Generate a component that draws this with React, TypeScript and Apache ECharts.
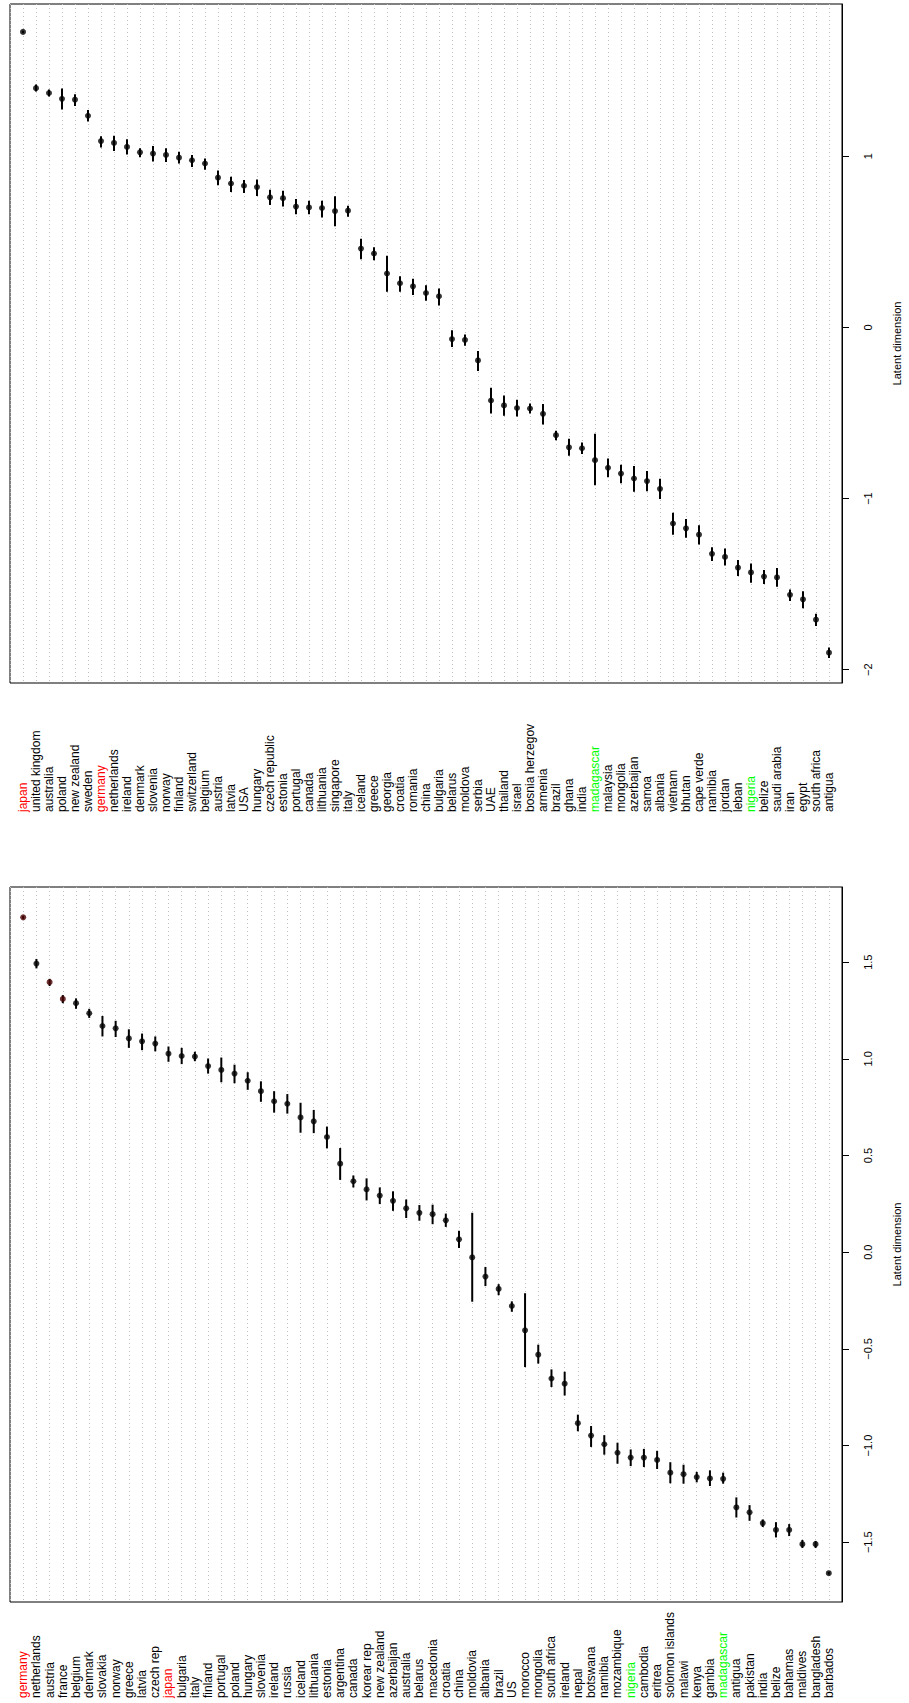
import React, { useEffect, useRef } from "react";
import * as echarts from "echarts";

// ---------- top panel data ----------
const topNames = [
  "japan", "united kingdom", "australia", "poland", "new zealand", "sweden", "germany", "netherlands",
  "ireland", "denmark", "slovenia", "norway", "finland", "switzerland", "belgium", "austria", "latvia",
  "USA", "hungary", "czech republic", "estonia", "portugal", "canada", "lithuania", "singapore", "italy",
  "iceland", "greece", "georgia", "croatia", "romania", "china", "bulgaria", "belarus", "moldova", "serbia",
  "UAE", "thailand", "israel", "bosnia herzegov", "armenia", "brazil", "ghana", "india", "madagascar",
  "malaysia", "mongolia", "azerbaijan", "samoa", "albania", "vietnam", "bhutan", "cape verde", "namibia",
  "jordan", "leban", "nigeria", "belize", "saudi arabia", "iran", "egypt", "south africa", "antigua",
];
const topValues = [
  1.727, 1.398, 1.37, 1.336, 1.331, 1.237, 1.089, 1.078, 1.055, 1.023, 1.016, 1.008, 0.992, 0.977, 0.958,
  0.875, 0.841, 0.828, 0.82, 0.76, 0.755, 0.706, 0.701, 0.698, 0.68, 0.682, 0.461, 0.432, 0.315, 0.258,
  0.24, 0.201, 0.182, -0.068, -0.073, -0.193, -0.427, -0.456, -0.471, -0.474, -0.505, -0.63, -0.701,
  -0.706, -0.776, -0.82, -0.854, -0.883, -0.898, -0.943, -1.146, -1.174, -1.211, -1.323, -1.341, -1.404,
  -1.432, -1.456, -1.461, -1.563, -1.589, -1.708, -1.901,
];
const topHigh = [
  1.734, 1.419, 1.391, 1.396, 1.362, 1.271, 1.117, 1.12, 1.099, 1.047, 1.06, 1.047, 1.026, 1.008, 0.987,
  0.917, 0.88, 0.862, 0.865, 0.805, 0.799, 0.75, 0.74, 0.74, 0.766, 0.711, 0.518, 0.469, 0.419, 0.299,
  0.284, 0.247, 0.227, -0.016, -0.042, -0.138, -0.352, -0.398, -0.422, -0.445, -0.448, -0.604, -0.651,
  -0.672, -0.622, -0.766, -0.802, -0.81, -0.839, -0.885, -1.083, -1.12, -1.156, -1.284, -1.292, -1.359,
  -1.38, -1.417, -1.406, -1.531, -1.542, -1.674, -1.87,
];
const topLow = [
  1.719, 1.378, 1.349, 1.273, 1.294, 1.203, 1.052, 1.031, 1.01, 0.995, 0.969, 0.966, 0.958, 0.938, 0.922,
  0.831, 0.792, 0.786, 0.768, 0.716, 0.706, 0.661, 0.661, 0.643, 0.591, 0.646, 0.398, 0.393, 0.208, 0.208,
  0.19, 0.156, 0.128, -0.115, -0.107, -0.255, -0.503, -0.516, -0.521, -0.503, -0.568, -0.659, -0.75,
  -0.74, -0.922, -0.875, -0.911, -0.961, -0.958, -1.003, -1.211, -1.229, -1.268, -1.365, -1.391, -1.453,
  -1.492, -1.5, -1.516, -1.599, -1.641, -1.745, -1.932,
];
const topRedNames = ["japan", "germany"];
const topGreenNames = ["madagascar", "nigeria"];
const topTicks = [-2, -1, 0, 1];
const topMin = -2.078;
const topMax = 1.89;

// ---------- bottom panel data ----------
const bottomNames = [
  "germany", "netherlands", "austria", "france", "belgium", "denmark", "slovakia", "norway", "greece",
  "latvia", "czech rep", "japan", "bulgaria", "italy", "finland", "portugal", "poland", "hungary",
  "slovenia", "ireland", "russia", "iceland", "lithuania", "estonia", "argentina", "canada", "korear rep",
  "new zealand", "azerbaijan", "australia", "belarus", "macedonia", "croatia", "china", "moldovia",
  "albania", "brazil", "US", "morocco", "mongolia", "south africa", "ireland", "nepal", "botswana",
  "namibia", "mozambique", "nigeria", "cambodia", "eritrea", "solomon islands", "malawi", "kenya",
  "gambia", "madagascar", "antigua", "pakistan", "india", "belize", "bahamas", "maldives", "bangladesh",
  "barbados",
];
const bottomValues = [
  1.732, 1.493, 1.397, 1.31, 1.288, 1.236, 1.17, 1.158, 1.106, 1.091, 1.079, 1.027, 1.015, 1.012, 0.963,
  0.943, 0.924, 0.887, 0.833, 0.781, 0.768, 0.697, 0.677, 0.596, 0.458, 0.367, 0.325, 0.293, 0.266,
  0.227, 0.204, 0.197, 0.165, 0.067, -0.027, -0.126, -0.19, -0.278, -0.404, -0.53, -0.653, -0.68,
  -0.884, -0.948, -0.993, -1.037, -1.062, -1.062, -1.074, -1.14, -1.148, -1.163, -1.17, -1.172, -1.32,
  -1.345, -1.401, -1.436, -1.436, -1.51, -1.51, -1.66,
];
const bottomHigh = [
  1.739, 1.517, 1.414, 1.33, 1.313, 1.259, 1.222, 1.197, 1.153, 1.131, 1.116, 1.064, 1.057, 1.037, 1.002,
  1.007, 0.97, 0.931, 0.884, 0.833, 0.818, 0.773, 0.736, 0.65, 0.539, 0.397, 0.382, 0.335, 0.315, 0.273,
  0.244, 0.246, 0.2, 0.111, 0.204, -0.076, -0.165, -0.254, -0.212, -0.478, -0.606, -0.618, -0.84,
  -0.899, -0.946, -0.985, -1.02, -1.017, -1.027, -1.086, -1.099, -1.136, -1.128, -1.14, -1.268, -1.308,
  -1.382, -1.396, -1.406, -1.488, -1.493, -1.653,
];
const bottomLow = [
  1.724, 1.468, 1.377, 1.288, 1.259, 1.212, 1.116, 1.113, 1.057, 1.045, 1.039, 0.985, 0.973, 0.988,
  0.924, 0.879, 0.874, 0.84, 0.778, 0.722, 0.717, 0.618, 0.616, 0.537, 0.374, 0.335, 0.268, 0.249, 0.214,
  0.177, 0.163, 0.145, 0.131, 0.022, -0.256, -0.175, -0.222, -0.308, -0.594, -0.576, -0.697, -0.741,
  -0.926, -1.007, -1.047, -1.094, -1.106, -1.111, -1.121, -1.195, -1.197, -1.19, -1.209, -1.197, -1.372,
  -1.389, -1.421, -1.475, -1.468, -1.53, -1.53, -1.667,
];
const bottomRedNames = ["germany", "japan"];
const bottomGreenNames = ["nigeria", "madagascar"];
const bottomDarkRedDots = [0, 2, 3];
const bottomTicks = [-1.5, -1, -0.5, 0, 0.5, 1, 1.5];
const bottomMin = -1.809;
const bottomMax = 1.889;

const FONT = "'Liberation Sans', Arial, Helvetica, sans-serif";

function fmtMinus(s: string) {
  return s.replace("-", "\u2212");
}

function buildPanel(
  idx: number,
  names: string[],
  values: number[],
  low: number[],
  high: number[],
  redNames: string[],
  greenNames: string[],
  darkDots: number[],
  ticks: number[],
  yMin: number,
  yMax: number,
  tickDigits: number,
  gridTop: number,
  gridHeight: number,
  labelMargin: number
) {
  const n = names.length;
  const grid = {
    left: 10,
    top: gridTop,
    width: 832,
    height: gridHeight,
    show: true,
    borderColor: "#000",
    borderWidth: 1,
    backgroundColor: "#fff",
    containLabel: false,
    outerBoundsMode: "none",
  };
  const xAxis = {
    gridIndex: idx,
    type: "value",
    min: 0,
    max: n + 1,
    interval: 1,
    position: "bottom",
    axisLine: { show: false, onZero: false },
    axisTick: { show: false },
    splitLine: { show: true, lineStyle: { color: "#bebebe", type: [1, 3], width: 1 } },
    axisLabel: {
      show: true,
      rotate: 90,
      align: "left",
      verticalAlign: "middle",
      margin: labelMargin,
      fontSize: 12,
      fontFamily: FONT,
      hideOverlap: false,
      showMinLabel: false,
      showMaxLabel: false,
      color: (v: any) => {
        const name = names[Math.round(Number(v)) - 1];
        if (redNames.includes(name)) return "#ff0000";
        if (greenNames.includes(name)) return "#00ff00";
        return "#000";
      },
      formatter: (v: number) => names[Math.round(v) - 1] ?? "",
    },
  };
  const yAxis = {
    gridIndex: idx,
    type: "value",
    position: "right",
    min: yMin,
    max: yMax,
    axisLine: { show: true, onZero: false, lineStyle: { color: "#000", width: 1 } },
    axisTick: { show: true, inside: false, length: 7, customValues: ticks, lineStyle: { color: "#000" } },
    splitLine: { show: false },
    axisLabel: {
      customValues: ticks,
      rotate: 90,
      margin: 20,
      fontSize: 11,
      fontFamily: FONT,
      color: "#000",
      formatter: (v: number) => fmtMinus(v.toFixed(tickDigits)),
    },
    name: "Latent dimension",
    nameLocation: "middle",
    nameRotate: 90,
    nameGap: 49,
    nameMoveOverlap: false,
    nameTextStyle: { fontSize: 11, fontFamily: FONT, color: "#000" },
  };
  const bars = {
    type: "custom",
    xAxisIndex: idx,
    yAxisIndex: idx,
    coordinateSystem: "cartesian2d",
    silent: true,
    encode: { x: 0, y: [1, 2] },
    data: names.map((_, i) => [i + 1, low[i], high[i]]),
    renderItem: (params: any, api: any) => {
      const p1 = api.coord([api.value(0), api.value(1)]);
      const p2 = api.coord([api.value(0), api.value(2)]);
      return {
        type: "line",
        shape: { x1: p1[0], y1: p1[1], x2: p2[0], y2: p2[1] },
        style: { stroke: "#000", lineWidth: 2 },
      };
    },
    z: 3,
  };
  const dots = {
    type: "scatter",
    xAxisIndex: idx,
    yAxisIndex: idx,
    symbol: "circle",
    symbolSize: 6,
    silent: true,
    data: values.map((v, i) => ({
      value: [i + 1, v],
      itemStyle: { color: darkDots.includes(i) ? "#4a0000" : "#000" },
    })),
    z: 4,
  };
  return { grid, xAxis, yAxis, series: [bars, dots] };
}

export default function App() {
  const ref = useRef<HTMLDivElement>(null);
  useEffect(() => {
    if (!ref.current) return;
    const chart = echarts.init(ref.current, undefined, { renderer: "svg" });
    const top = buildPanel(
      0, topNames, topValues, topLow, topHigh, topRedNames, topGreenNames, [],
      topTicks, topMin, topMax, 0, 4, 679, 129
    );
    const bottom = buildPanel(
      1, bottomNames, bottomValues, bottomLow, bottomHigh, bottomRedNames, bottomGreenNames,
      bottomDarkRedDots, bottomTicks, bottomMin, bottomMax, 1, 887, 715, 96
    );
    chart.setOption({
      animation: false,
      backgroundColor: "#fff",
      textStyle: { fontFamily: FONT },
      grid: [top.grid, bottom.grid],
      xAxis: [top.xAxis, bottom.xAxis],
      yAxis: [top.yAxis, bottom.yAxis],
      series: [...top.series, ...bottom.series],
    } as any);
    return () => chart.dispose();
  }, []);
  return (
    <div
      ref={ref}
      style={{ position: "absolute", left: 0, top: 0, width: 909, height: 1703, background: "#fff" }}
    />
  );
}
